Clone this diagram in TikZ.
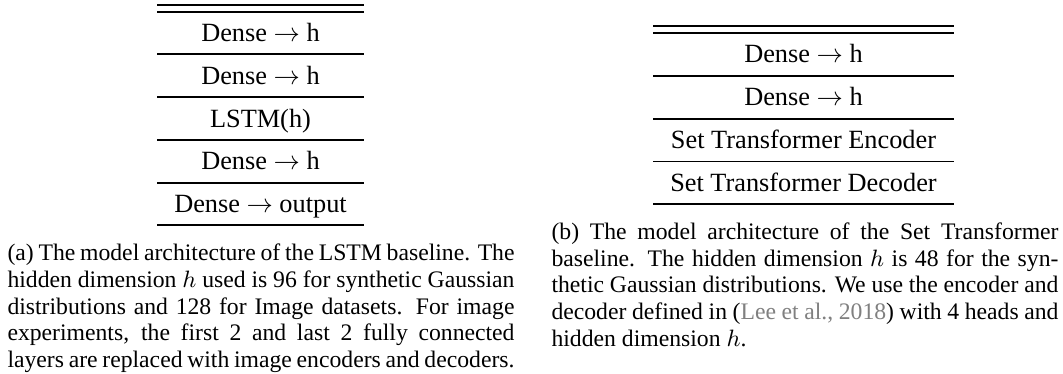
\documentclass[tikz,border=0pt]{standalone}
\usepackage{fontspec}
\setmainfont{Liberation Serif}
\usepackage{xcolor}
\definecolor{citegray}{rgb}{0.5,0.5,0.5}
\newcommand{\tabfont}{\fontsize{10}{12}\selectfont}
\newcommand{\capfont}{\fontsize{9}{10.13}\selectfont}
\begin{document}
\begin{tikzpicture}[x=0.38pt,y=-0.38pt,
  rowtext/.style={anchor=base,inner sep=0pt,font=\tabfont},
  heavyrule/.style={line width=0.8pt},
  lightrule/.style={line width=0.5pt},
  captext/.style={anchor=base west,inner sep=0pt,font=\capfont}]
\useasboundingbox (0,0) rectangle (1063,374);
% ---------- left table ----------
\coordinate (LTl1) at (157,4.7);  \coordinate (LTr1) at (364,4.7);
\coordinate (LTl2) at (157,12);   \coordinate (LTr2) at (364,12);
\coordinate (LMl1) at (157,54);   \coordinate (LMr1) at (364,54);
\coordinate (LMl2) at (157,97);   \coordinate (LMr2) at (364,97);
\coordinate (LMl3) at (157,140);  \coordinate (LMr3) at (364,140);
\coordinate (LMl4) at (157,183);  \coordinate (LMr4) at (364,183);
\coordinate (LBl) at (157,225);   \coordinate (LBr) at (364,225);
\draw[heavyrule] (LTl1) -- (LTr1);
\draw[heavyrule] (LTl2) -- (LTr2);
\draw[lightrule] (LMl1) -- (LMr1);
\draw[lightrule] (LMl2) -- (LMr2);
\draw[lightrule] (LMl3) -- (LMr3);
\draw[lightrule] (LMl4) -- (LMr4);
\draw[heavyrule] (LBl) -- (LBr);
\node[rowtext] (la) at (260.5,41.7) {Dense $\rightarrow$ h};
\node[rowtext] (lb) at (260.5,84.4) {Dense $\rightarrow$ h};
\node[rowtext] (lc) at (260.5,127.1) {LSTM(h)};
\node[rowtext] (ld) at (260.5,169.8) {Dense $\rightarrow$ h};
\node[rowtext] (le) at (260.5,212.5) {Dense $\rightarrow$ output};
% ---------- right table ----------
\coordinate (RTl1) at (653,26);   \coordinate (RTr1) at (954,26);
\coordinate (RTl2) at (653,33.3); \coordinate (RTr2) at (954,33.3);
\coordinate (RMl1) at (653,76);   \coordinate (RMr1) at (954,76);
\coordinate (RMl2) at (653,119);  \coordinate (RMr2) at (954,119);
\coordinate (RMl3) at (653,161.5);\coordinate (RMr3) at (954,161.5);
\coordinate (RBl) at (653,204);   \coordinate (RBr) at (954,204);
\draw[heavyrule] (RTl1) -- (RTr1);
\draw[heavyrule] (RTl2) -- (RTr2);
\draw[lightrule] (RMl1) -- (RMr1);
\draw[lightrule] (RMl2) -- (RMr2);
\draw[lightrule] (RMl3) -- (RMr3);
\draw[heavyrule] (RBl) -- (RBr);
\node[rowtext] (ra) at (803.5,63) {Dense $\rightarrow$ h};
\node[rowtext] (rb) at (803.5,105.7) {Dense $\rightarrow$ h};
\node[rowtext] (rc) at (803.5,148.4) {Set Transformer Encoder};
\node[rowtext] (rd) at (803.5,191.1) {Set Transformer Decoder};
% ---------- captions ----------
\node[captext] (capa) at (7,261) {\parbox[t]{192.66pt}{%
(a) The model architecture of the LSTM baseline. The\linebreak
hidden dimension $h$ used is 96 for synthetic Gaussian\linebreak
distributions and 128 for Image datasets. For image\linebreak
experiments, the first 2 and last 2 fully connected\linebreak
layers are replaced with image encoders and decoders.}};
\node[captext] (capb) at (551,239.5) {\parbox[t]{192.66pt}{%
(b) The model architecture of the Set Transformer\linebreak
baseline. The hidden dimension $h$ is 48 for the syn-\linebreak
thetic Gaussian distributions. We use the encoder and\linebreak
decoder defined in (\textcolor{citegray}{Lee et al., 2018}) with 4 heads and\linebreak
hidden dimension $h$.}};
\end{tikzpicture}
\end{document}
